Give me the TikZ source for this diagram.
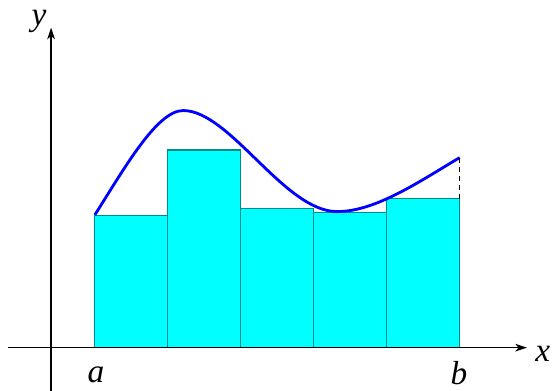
\documentclass[tikz,border=0pt]{standalone}
\usepackage{fontspec}
\setmainfont{Liberation Serif}
\usetikzlibrary{arrows.meta}

\definecolor{barfill}{RGB}{0,255,255}
\definecolor{baredge}{RGB}{0,140,140}

\tikzset{
    axis/.style={line width=0.9pt, -{Stealth[length=9pt,width=6pt,inset=2.5pt]}},
    bar/.style={draw=baredge, fill=barfill, line width=1pt},
    lbl/.style={font=\fontsize{26}{30}\selectfont\itshape, inner sep=0pt, anchor=base}
}

\begin{document}
\begin{tikzpicture}[scale=1]

\useasboundingbox (-1.40,-1.18) rectangle (13.84,9.53);

% Rectangles
\draw[bar] (1.2,0) rectangle (3.2,3.62);
\draw[bar] (3.2,0) rectangle (5.2,5.42);
\draw[bar] (5.2,0) rectangle (7.2,3.81);
\draw[bar] (7.2,0) rectangle (9.2,3.70);
\draw[bar] (9.2,0) rectangle (11.2,4.08);

% Axes
\coordinate (xs) at (-1.18,0);
\coordinate (xe) at (13.04,0);
\coordinate (ys) at (0,-1.18);
\coordinate (ye) at (0,8.77);
\draw[axis] (xs) -- (xe);
\draw[axis] (ys) -- (ye);
\node[lbl] (xl) at (13.48,-0.38) {x};
\node[lbl] (yl) at (-0.33,8.82) {y};

% Curve
\coordinate (fa) at (1.2,3.64);
\coordinate (fmax) at (3.62,6.50);
\coordinate (fmin) at (7.84,3.73);
\coordinate (fb) at (11.2,5.21);
\draw[blue, line width=2.2pt] (fa) .. controls (2.0,4.9) and (2.9,6.5) .. (fmax)
    .. controls (4.9,6.5) and (6.4,3.73) .. (fmin)
    .. controls (8.9,3.73) and (10.1,4.56) .. (fb);

% Dashed edge at b
\coordinate (rb) at (11.2,4.08);
\draw[line width=0.9pt, dash pattern=on 4pt off 3pt] (rb) -- (fb);

% Labels
\node[lbl] (al) at (1.23,-0.96) {a};
\node[lbl] (bl) at (11.18,-1.01) {b};

\end{tikzpicture}
\end{document}
